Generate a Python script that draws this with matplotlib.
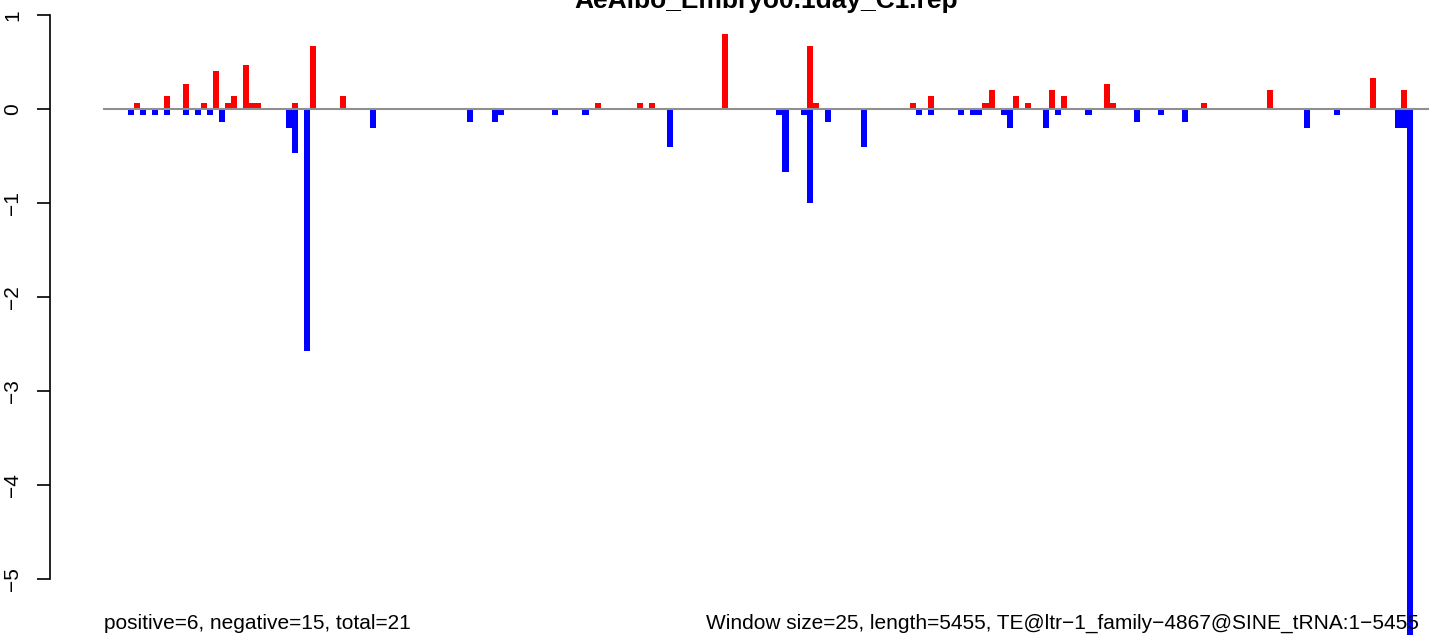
import matplotlib
matplotlib.use("Agg")
import matplotlib.pyplot as plt

TITLE = "AeAlbo_Embryo0.1day_C1.rep"
LEFT_NOTE = "positive=6, negative=15, total=21"
RIGHT_NOTE = "Window size=25, length=5455, TE@ltr\u22121_family\u22124867@SINE_tRNA:1\u22125455"

N_WINDOWS = 219  # 5455 / 25

# windows with positive signal (red)
pos_idx = [5, 10, 13, 16, 18, 20, 21, 23, 24, 25, 31, 34, 39, 81, 88, 90, 102, 116, 117,
           133, 136, 145, 146, 150, 152, 156, 158, 165, 166, 181, 192, 209, 214]
pos_val = [0.067, 0.133, 0.267, 0.067, 0.4, 0.067, 0.133, 0.467, 0.067, 0.067, 0.067, 0.667,
           0.133, 0.067, 0.067, 0.067, 0.8, 0.667, 0.067, 0.067, 0.133, 0.067, 0.2, 0.133,
           0.067, 0.2, 0.133, 0.267, 0.067, 0.067, 0.2, 0.333, 0.2]

# windows with negative signal (blue)
neg_idx = [4, 6, 8, 10, 13, 15, 17, 19, 30, 31, 33, 44, 60, 64, 65, 74, 79, 93, 111, 112,
           115, 116, 119, 125, 134, 136, 141, 143, 144, 148, 149, 155, 157, 162, 170, 174,
           178, 198, 203, 213, 214, 215]
neg_val = [-0.067, -0.067, -0.067, -0.067, -0.067, -0.067, -0.067, -0.133, -0.2, -0.467,
           -2.57, -0.2, -0.133, -0.133, -0.067, -0.067, -0.067, -0.4, -0.067, -0.667,
           -0.067, -1.0, -0.133, -0.4, -0.067, -0.067, -0.067, -0.067, -0.067, -0.067,
           -0.2, -0.2, -0.067, -0.067, -0.133, -0.067, -0.133, -0.2, -0.067, -0.2, -0.2,
           -6.2]

y_ticks = [1, 0, -1, -2, -3, -4, -5]

plt.rcParams['font.family'] = ['Liberation Sans', 'DejaVu Sans']

W, H = 1429, 635
fig = plt.figure(figsize=(W / 100, H / 100), dpi=100)

# plot region: y axis at x=50px, window 0 starts at ~103.8px, 6.06px per window
x0_px, slot_px, axis_px = 103.76, 6.06, 50
ax = fig.add_axes([axis_px / W, 0, (W - axis_px) / W, 1])
ax.set_xlim(-(x0_px - axis_px) / slot_px, (W - x0_px) / slot_px)
# y=1 at 15px, y=-5 at 579px
ppu = 94.0
ax.set_ylim(-5 - (H - 579) / ppu, 1 + 15 / ppu)

ax.bar(pos_idx, pos_val, width=1, align='edge', color='red', linewidth=0, zorder=2)
ax.bar(neg_idx, neg_val, width=1, align='edge', color='blue', linewidth=0, zorder=2)
ax.plot([0, N_WINDOWS], [0, 0], color='#8f8f8f', linewidth=1.5, zorder=3)

for s in ['top', 'right', 'bottom']:
    ax.spines[s].set_visible(False)
ax.spines['left'].set_bounds(-5, 1)
ax.spines['left'].set_linewidth(1.2)
ax.set_xticks([])
ax.set_yticks(y_ticks)
ax.set_yticklabels([f"{t:d}".replace('-', '\u2212') for t in y_ticks], rotation=90, va='center')
ax.tick_params(axis='y', direction='out', length=9.4, width=1.2, pad=10.5, labelsize=15)
ax.patch.set_alpha(0)

# title sits partly above the top edge, as in the original export
fig.text(0.5 * (axis_px + W + 54) / W, 1 - 8 / H, TITLE, ha='center', va='baseline',
         fontsize=19, fontweight='bold')
fig.text(104 / W, 6 / H, LEFT_NOTE, ha='left', va='baseline', fontsize=15)
fig.text(706 / W, 6 / H, RIGHT_NOTE, ha='left', va='baseline', fontsize=15)

fig.savefig("out.png", dpi=100)
